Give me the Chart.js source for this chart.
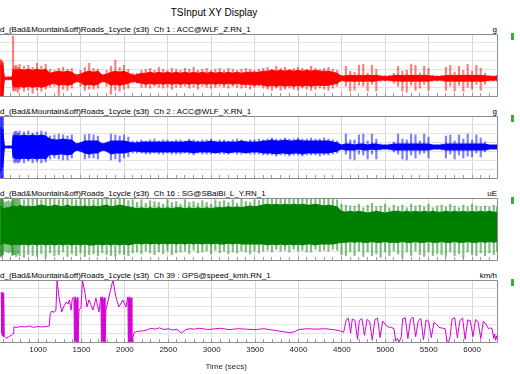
<!DOCTYPE html>
<html><head><meta charset="utf-8">
<script src="https://cdn.jsdelivr.net/npm/chart.js@4.4.1/dist/chart.umd.min.js"></script>
<style>
html,body{margin:0;padding:0;background:#fff;overflow:hidden;}
#wrap{position:relative;width:520px;height:374px;overflow:hidden;font-family:"Liberation Sans",Arial,sans-serif;color:#000;}
.lbl{position:absolute;left:0;font-size:8px;line-height:9px;white-space:pre;}
.unit{position:absolute;right:23px;font-size:8px;line-height:9px;}
.mark{position:absolute;left:511px;width:3px;height:7px;background:#2fb52f;}
canvas{position:absolute;left:-46px;}
#title{position:absolute;left:0;width:428px;top:7px;text-align:center;font-size:10px;line-height:12px;}
</style></head>
<body><div id="wrap"><div id="title">TSInput XY Display</div></div>
<script>
// ---- data: min/max envelopes per ~50 s sample ----
const sampleTimes = [578,588,598,608,625,650,675,700,715,725,
740,760,780,800,850,900,950,1000,1050,1100,
1150,1200,1250,1300,1350,1400,1450,1500,1550,1600,
1650,1700,1750,1800,1850,1900,1950,2000,2050,2100,
2150,2200,2250,2300,2350,2400,2450,2500,2550,2600,
2650,2700,2750,2800,2850,2900,2950,3000,3050,3100,
3150,3200,3250,3300,3350,3400,3450,3500,3550,3600,
3650,3700,3750,3800,3850,3900,3950,4000,4050,4100,
4150,4200,4250,4300,4350,4400,4450,4500,4550,4600,
4650,4700,4750,4800,4850,4900,4950,5000,5050,5100,
5150,5200,5250,5300,5350,5400,5450,5500,5550,5600,
5650,5700,5750,5800,5850,5900,5950,6000,6050,6100,
6150,6200,6250,6287];

// Ch 1 ACC@WLF_Z (g)
const accZPeakHi = [1.07,1.02,0.96,0.90,0.11,0.08,0.10,0.08,0.11,2.37,
0.68,0.73,0.62,0.79,0.68,0.73,0.62,0.85,0.68,0.79,
0.51,0.45,0.56,0.62,0.51,0.56,0.23,0.45,0.62,0.85,
0.56,0.51,0.23,0.45,0.68,1.02,0.62,0.73,0.51,0.28,
0.28,0.45,0.51,0.56,0.45,0.62,0.51,0.45,0.56,0.51,
0.45,0.56,0.51,0.62,0.45,0.51,0.56,0.45,0.51,0.56,
0.45,0.56,0.51,0.45,0.51,0.56,0.51,0.45,0.51,0.56,
0.62,0.51,0.68,0.56,0.62,0.51,0.56,0.62,0.56,0.51,
0.68,0.56,0.51,0.56,0.62,0.51,0.45,0.17,0.68,0.40,
0.34,0.73,0.79,0.28,0.73,0.51,0.17,0.15,0.17,0.28,
0.68,0.40,0.45,0.79,0.73,0.30,0.68,0.56,0.17,0.15,
0.17,0.62,0.73,0.34,0.68,0.45,0.79,0.40,0.73,0.56,
0.28,0.17,0.15,0.17];
const accZPeakLo = [-1.07,-1.07,-1.07,-1.07,-0.11,-0.08,-0.10,-0.08,-0.11,-0.68,
-0.73,-0.68,-0.79,-0.62,-0.73,-0.68,-0.85,-0.68,-0.73,-0.62,
-0.51,-0.45,-1.02,-0.62,-0.68,-0.56,-0.23,-0.45,-0.68,-0.62,
-0.62,-0.56,-0.23,-0.45,-0.90,-0.68,-0.73,-0.62,-0.56,-0.28,
-0.28,-0.51,-0.51,-0.56,-0.45,-0.51,-0.56,-0.51,-0.62,-0.51,
-0.51,-0.45,-0.56,-0.51,-0.62,-0.45,-0.51,-0.56,-0.51,-0.45,
-0.51,-0.56,-0.45,-0.51,-0.56,-0.51,-0.62,-0.51,-0.45,-0.56,
-0.62,-0.68,-0.56,-0.68,-0.62,-0.56,-0.62,-0.68,-0.56,-0.62,
-0.68,-0.62,-0.56,-0.62,-0.68,-0.56,-0.45,-0.17,-0.45,-0.73,
-0.68,-0.40,-0.45,-0.73,-0.34,-0.73,-0.17,-0.15,-0.17,-0.28,
-0.45,-0.73,-0.79,-0.40,-0.68,-0.56,-0.34,-0.68,-0.17,-0.15,
-0.17,-0.68,-0.45,-0.73,-0.40,-0.73,-0.51,-0.62,-0.34,-0.68,
-0.34,-0.17,-0.15,-0.17];
const accZCoreHi = [0.85,0.80,0.75,0.70,0.06,0.05,0.06,0.05,0.06,0.51,
0.45,0.51,0.45,0.51,0.45,0.51,0.45,0.51,0.45,0.51,
0.28,0.34,0.40,0.34,0.40,0.34,0.17,0.23,0.34,0.40,
0.34,0.40,0.17,0.23,0.34,0.40,0.34,0.40,0.28,0.17,
0.20,0.28,0.28,0.34,0.28,0.34,0.28,0.34,0.28,0.34,
0.28,0.34,0.28,0.34,0.28,0.34,0.28,0.34,0.28,0.34,
0.28,0.34,0.28,0.34,0.28,0.34,0.34,0.34,0.34,0.40,
0.40,0.45,0.40,0.45,0.40,0.45,0.40,0.45,0.40,0.45,
0.40,0.45,0.40,0.40,0.40,0.34,0.28,0.11,0.15,0.17,
0.15,0.17,0.15,0.17,0.15,0.17,0.11,0.10,0.11,0.15,
0.17,0.15,0.17,0.15,0.17,0.15,0.17,0.15,0.11,0.10,
0.11,0.15,0.17,0.15,0.17,0.15,0.17,0.15,0.17,0.15,
0.15,0.11,0.10,0.11];
const accZCoreLo = [-1.07,-1.02,-1.02,-0.96,-0.06,-0.05,-0.06,-0.05,-0.06,-0.45,
-0.51,-0.45,-0.51,-0.45,-0.51,-0.45,-0.51,-0.45,-0.51,-0.45,
-0.34,-0.28,-0.40,-0.34,-0.40,-0.34,-0.17,-0.23,-0.40,-0.34,
-0.40,-0.34,-0.17,-0.23,-0.40,-0.34,-0.40,-0.34,-0.28,-0.17,
-0.23,-0.28,-0.34,-0.28,-0.34,-0.28,-0.34,-0.28,-0.34,-0.28,
-0.34,-0.28,-0.34,-0.28,-0.34,-0.28,-0.34,-0.28,-0.34,-0.28,
-0.34,-0.28,-0.34,-0.28,-0.34,-0.34,-0.34,-0.40,-0.34,-0.40,
-0.45,-0.40,-0.45,-0.40,-0.45,-0.40,-0.45,-0.40,-0.45,-0.40,
-0.45,-0.40,-0.40,-0.40,-0.40,-0.34,-0.28,-0.11,-0.17,-0.15,
-0.17,-0.15,-0.17,-0.15,-0.17,-0.15,-0.10,-0.11,-0.10,-0.15,
-0.15,-0.17,-0.15,-0.17,-0.15,-0.17,-0.15,-0.17,-0.10,-0.11,
-0.10,-0.17,-0.15,-0.17,-0.15,-0.17,-0.15,-0.17,-0.15,-0.17,
-0.15,-0.10,-0.11,-0.10];

// Ch 2 ACC@WLF_X (g)
const accXPeakHi = [1.80,1.80,1.80,1.80,0.06,0.05,0.06,0.05,0.06,0.68,
0.85,0.90,0.79,0.90,0.85,0.90,0.79,0.85,0.90,0.85,
0.62,0.68,0.73,0.68,0.62,0.68,0.23,0.28,0.68,0.73,
0.68,0.62,0.23,0.28,0.73,0.68,0.62,0.68,0.56,0.34,
0.34,0.40,0.34,0.40,0.45,0.34,0.40,0.40,0.34,0.40,
0.40,0.34,0.45,0.40,0.34,0.40,0.40,0.45,0.34,0.40,
0.40,0.34,0.40,0.45,0.40,0.34,0.40,0.40,0.45,0.40,
0.45,0.51,0.45,0.45,0.51,0.45,0.45,0.51,0.45,0.45,
0.51,0.45,0.45,0.51,0.45,0.40,0.34,0.11,0.73,0.40,
0.40,0.68,0.73,0.34,0.73,0.45,0.17,0.11,0.17,0.28,
0.73,0.45,0.40,0.73,0.68,0.34,0.73,0.56,0.11,0.11,
0.17,0.62,0.68,0.34,0.68,0.45,0.73,0.40,0.68,0.51,
0.28,0.11,0.11,0.11];
const accXPeakLo = [-1.80,-1.80,-1.80,-1.80,-0.06,-0.05,-0.06,-0.05,-0.06,-0.62,
-0.90,-0.85,-0.90,-0.85,-0.90,-0.79,-0.90,-0.85,-0.90,-0.85,
-0.68,-0.62,-0.68,-0.73,-0.73,-0.62,-0.23,-0.28,-0.68,-0.62,
-0.62,-0.68,-0.23,-0.28,-0.73,-0.68,-0.85,-0.62,-0.56,-0.34,
-0.34,-0.34,-0.40,-0.40,-0.34,-0.40,-0.40,-0.34,-0.40,-0.40,
-0.40,-0.34,-0.40,-0.45,-0.34,-0.40,-0.40,-0.40,-0.34,-0.40,
-0.40,-0.40,-0.34,-0.40,-0.40,-0.34,-0.40,-0.40,-0.40,-0.45,
-0.45,-0.45,-0.51,-0.45,-0.45,-0.51,-0.45,-0.45,-0.51,-0.45,
-0.45,-0.45,-0.51,-0.45,-0.45,-0.40,-0.34,-0.11,-0.40,-0.68,
-0.73,-0.40,-0.45,-0.68,-0.40,-0.68,-0.17,-0.11,-0.17,-0.28,
-0.40,-0.68,-0.73,-0.45,-0.62,-0.40,-0.34,-0.62,-0.11,-0.11,
-0.17,-0.62,-0.40,-0.68,-0.45,-0.62,-0.51,-0.56,-0.34,-0.56,
-0.28,-0.11,-0.11,-0.11];
const accXCoreHi = [1.13,1.02,1.02,0.90,0.05,0.04,0.05,0.04,0.05,0.56,
0.68,0.62,0.68,0.62,0.68,0.62,0.68,0.62,0.68,0.62,
0.45,0.40,0.40,0.45,0.40,0.40,0.17,0.23,0.34,0.34,
0.34,0.34,0.17,0.23,0.34,0.34,0.34,0.34,0.28,0.23,
0.23,0.28,0.28,0.28,0.28,0.28,0.28,0.28,0.28,0.28,
0.28,0.28,0.34,0.28,0.28,0.28,0.28,0.34,0.28,0.28,
0.28,0.28,0.28,0.28,0.34,0.28,0.28,0.28,0.28,0.34,
0.34,0.40,0.34,0.34,0.40,0.34,0.34,0.40,0.34,0.34,
0.34,0.34,0.34,0.34,0.34,0.28,0.23,0.11,0.17,0.17,
0.11,0.17,0.17,0.11,0.17,0.17,0.11,0.11,0.11,0.17,
0.17,0.17,0.17,0.17,0.17,0.17,0.17,0.17,0.11,0.11,
0.11,0.17,0.17,0.17,0.17,0.17,0.17,0.17,0.17,0.17,
0.17,0.11,0.11,0.11];
const accXCoreLo = [-1.41,-1.24,-1.13,-1.02,-0.05,-0.04,-0.05,-0.04,-0.05,-0.51,
-0.62,-0.68,-0.62,-0.68,-0.62,-0.68,-0.62,-0.68,-0.62,-0.68,
-0.40,-0.45,-0.40,-0.40,-0.45,-0.40,-0.17,-0.23,-0.34,-0.40,
-0.34,-0.34,-0.17,-0.23,-0.40,-0.34,-0.34,-0.34,-0.28,-0.23,
-0.23,-0.28,-0.28,-0.28,-0.28,-0.28,-0.28,-0.28,-0.28,-0.28,
-0.28,-0.28,-0.28,-0.34,-0.28,-0.28,-0.28,-0.28,-0.34,-0.28,
-0.28,-0.34,-0.28,-0.28,-0.28,-0.34,-0.28,-0.28,-0.28,-0.34,
-0.34,-0.34,-0.40,-0.34,-0.34,-0.40,-0.34,-0.34,-0.40,-0.34,
-0.34,-0.34,-0.34,-0.34,-0.34,-0.28,-0.23,-0.11,-0.17,-0.17,
-0.17,-0.11,-0.17,-0.17,-0.11,-0.17,-0.11,-0.11,-0.11,-0.17,
-0.17,-0.17,-0.17,-0.17,-0.17,-0.17,-0.17,-0.17,-0.11,-0.11,
-0.11,-0.17,-0.17,-0.17,-0.17,-0.17,-0.17,-0.17,-0.17,-0.17,
-0.17,-0.11,-0.11,-0.11];

// Ch 16 SG@SBaiBi_L_Y (uE)
const sgPeakHi = [350,360,340,330,300,310,320,300,330,340,
360,340,350,370,330,360,340,370,330,360,
340,370,330,350,360,340,330,360,350,340,
330,360,340,370,350,330,370,340,320,330,
300,330,290,320,310,300,280,330,300,310,
280,330,300,310,290,320,300,280,330,310,
320,300,330,290,340,310,300,330,320,340,
370,360,380,370,360,380,370,360,370,380,
380,360,370,350,370,350,330,280,270,260,
260,280,240,270,290,250,260,280,240,270,
250,270,240,280,260,270,250,280,240,260,
270,250,280,260,240,270,250,280,260,250,
260,250,270,250];
const sgPeakLo = [-320,-300,-310,-290,-250,-260,-270,-260,-300,-290,
-290,-310,-280,-300,-320,-290,-300,-310,-280,-320,
-270,-300,-290,-260,-310,-280,-300,-270,-310,-290,
-280,-300,-270,-290,-300,-310,-280,-290,-300,-270,
-260,-280,-250,-270,-290,-260,-280,-250,-290,-270,
-260,-250,-280,-240,-270,-260,-250,-280,-240,-270,
-250,-280,-260,-270,-250,-260,-280,-250,-270,-250,
-240,-260,-230,-250,-240,-260,-230,-250,-240,-260,
-260,-230,-250,-240,-250,-230,-240,-290,-300,-260,
-300,-250,-310,-260,-300,-280,-320,-260,-300,-250,
-280,-320,-260,-300,-250,-290,-310,-260,-300,-280,
-290,-310,-260,-300,-280,-320,-260,-290,-300,-270,
-300,-270,-290,-260];
const sgCoreHi = [250,260,240,230,230,240,240,250,250,260,
260,250,250,270,250,260,250,260,270,260,
250,270,260,250,270,250,260,250,260,250,
260,250,260,270,250,260,270,260,250,240,
230,240,230,240,230,240,230,240,230,240,
240,230,240,230,240,230,240,230,240,240,
240,250,240,250,240,250,260,250,260,270,
280,270,280,270,280,270,280,270,280,270,
270,280,270,260,270,260,250,200,190,200,
190,200,190,180,190,200,190,180,190,200,
200,190,200,190,200,190,200,190,200,190,
190,200,190,200,190,200,190,200,190,200,
190,200,190,190];
const sgCoreLo = [-180,-170,-170,-160,-160,-170,-170,-180,-170,-180,
-170,-180,-170,-180,-170,-180,-170,-180,-170,-180,
-170,-180,-170,-180,-170,-180,-170,-180,-170,-180,
-180,-170,-180,-170,-180,-170,-180,-170,-180,-170,
-160,-170,-160,-170,-160,-170,-160,-170,-160,-170,
-160,-170,-160,-170,-160,-170,-160,-170,-160,-170,
-170,-160,-170,-160,-170,-170,-170,-170,-170,-170,
-180,-170,-180,-170,-180,-170,-180,-170,-180,-170,
-170,-180,-170,-170,-170,-170,-160,-150,-150,-140,
-150,-140,-150,-150,-140,-150,-150,-140,-150,-150,
-150,-140,-150,-150,-140,-150,-150,-140,-150,-150,
-140,-150,-150,-140,-150,-150,-140,-150,-150,-140,
-150,-140,-150,-140];

// Ch 39 GPS@speed_kmh (km/h)
const speedTimes = [576,579,582,585,588,591,594,597,600,603,
606,610,630,660,690,712,720,760,800,850,
900,950,1000,1050,1100,1128,1140,1160,1185,1205,
1218,1240,1272,1300,1322,1345,1360,1380,1393,1413,
1418,1423,1428,1433,1438,1443,1448,1453,1458,1471,
1494,1511,1540,1563,1586,1609,1632,1666,1701,1724,
1729,1734,1739,1744,1749,1754,1759,1764,1770,1781,
1816,1862,1896,1931,1977,2011,2034,2039,2044,2049,
2054,2059,2064,2069,2074,2080,2092,2110,2150,2200,
2250,2300,2350,2400,2450,2500,2550,2600,2650,2700,
2750,2800,2850,2900,2950,3000,3100,3200,3300,3400,
3500,3600,3700,3800,3900,3950,4000,4100,4200,4300,
4400,4480,4520,4550,4575,4600,4620,4650,4680,4700,
4730,4760,4790,4820,4850,4880,4910,4940,4970,5000,
5030,5070,5100,5120,5140,5160,5185,5200,5230,5260,
5290,5320,5350,5380,5410,5440,5470,5500,5530,5560,
5590,5620,5660,5690,5710,5730,5745,5770,5800,5830,
5860,5890,5920,5950,5980,6010,6040,6070,6100,6130,
6160,6190,6210,6230,6250,6260,6270,6280,6287];
const speedKmh = [112,20,110,14,108,22,112,12,110,18,
105,12,8,12,15,19,34,33,35,34,
36,33,35,34,35,36,64,70,67,72,
140,102,68,82,90,86,95,72,97,102,
0,98,4,102,0,95,2,100,0,72,
78,140,111,79,95,84,72,99,68,102,
0,100,3,102,0,97,2,100,0,72,
102,140,102,79,95,79,102,0,100,2,
102,0,98,3,100,0,11,22,24,25,
27,31,29,32,28,30,27,29,20,28,
30,29,31,30,28,29,31,28,30,29,
28,30,27,24,21,23,28,30,29,30,
28,25,22,50,54,20,52,49,6,48,
53,15,51,46,4,50,54,10,47,40,
34,33,30,2,8,0,12,52,55,8,
50,56,12,48,53,5,50,46,10,44,
40,33,31,30,3,0,10,52,55,10,
49,54,6,50,48,12,51,45,8,47,
40,30,32,30,8,18,4,14,6];

const panelNames = [
  "d_(Bad&Mountain&off)Roads_1cycle (s3t)  Ch 1 : ACC@WLF_Z.RN_1",
  "d_(Bad&Mountain&off)Roads_1cycle (s3t)  Ch 2 : ACC@WLF_X.RN_1",
  "d_(Bad&Mountain&off)Roads_1cycle (s3t)  Ch 16 : SG@SBaiBi_L_Y.RN_1",
  "d_(Bad&Mountain&off)Roads_1cycle (s3t)  Ch 39 : GPS@speed_kmh.RN_1"
];
const panelUnits = ["g", "g", "uE", "km/h"];
const xAxisTitle = "Time (secs)";

// ---- layout / style ----
const FONT = '"Liberation Sans", Arial, sans-serif';
Chart.defaults.font.family = FONT;
const X_MIN = 46, X_MAX = 6287;
const panels = [
  {top: 34,  ymin: -1,    ymax: 2.5,  step: 0.5, rgb: '255,0,0',  env: [accZPeakLo, accZPeakHi, accZCoreLo, accZCoreHi]},
  {top: 116, ymin: -1.75, ymax: 1.75, step: 0.5, rgb: '0,0,255',  env: [accXPeakLo, accXPeakHi, accXCoreLo, accXCoreHi]},
  {top: 198, ymin: -350,  ymax: 350,  step: 100, rgb: '0,128,0',  env: [sgPeakLo, sgPeakHi, sgCoreLo, sgCoreHi]},
  {top: 280, ymin: 0,     ymax: 140,  step: 20,  rgb: '215,0,215', speed: true}
];

const toPts = (ts, vs) => vs.map((v, i) => ({x: ts[i], y: v}));
const toBars = (ts, lo, hi) => lo.map((v, i) => ({x: ts[i], y: [v, hi[i]]}));

const framePlugin = {
  id: 'frame',
  afterDraw(chart) {
    const {ctx, chartArea: a} = chart;
    ctx.save();
    ctx.strokeStyle = '#8c8c8c';
    ctx.lineWidth = 1;
    ctx.beginPath();
    ctx.moveTo(a.left, a.top + 0.5);
    ctx.lineTo(a.right + 0.5, a.top + 0.5);
    ctx.lineTo(a.right + 0.5, a.bottom + 0.5);
    ctx.lineTo(a.left, a.bottom + 0.5);
    ctx.stroke();
    ctx.restore();
  }
};

const wrap = document.getElementById('wrap');
panels.forEach((p, idx) => {
  const isBottom = idx === panels.length - 1;
  const lbl = document.createElement('div');
  lbl.className = 'lbl'; lbl.style.top = (p.top - 9) + 'px'; lbl.textContent = panelNames[idx];
  wrap.appendChild(lbl);
  const un = document.createElement('div');
  un.className = 'unit'; un.style.top = (p.top - 9) + 'px'; un.textContent = panelUnits[idx];
  wrap.appendChild(un);
  const mk = document.createElement('div');
  mk.className = 'mark'; mk.style.top = (p.top - 1) + 'px';
  wrap.appendChild(mk);

  const cv = document.createElement('canvas');
  const h = isBottom ? 96 : 66;
  cv.width = 566; cv.height = h;
  cv.style.width = '566px'; cv.style.height = h + 'px';
  cv.style.top = (p.top - 2) + 'px';
  wrap.appendChild(cv);

  const solid = 'rgb(' + p.rgb + ')';
  let datasets;
  if (p.speed) {
    datasets = [{type: 'line', data: toPts(speedTimes, speedKmh), borderColor: solid, borderWidth: 1,
                 pointRadius: 0, tension: 0, borderJoinStyle: 'bevel', clip: 0, fill: false}];
  } else {
    const [pLo, pHi, cLo, cHi] = p.env;
    datasets = [
      {type: 'line', data: toPts(sampleTimes, cHi), borderColor: solid, backgroundColor: solid, borderWidth: 1,
       pointRadius: 0, tension: 0, borderJoinStyle: 'bevel', clip: 0, fill: '+1'},
      {type: 'line', data: toPts(sampleTimes, cLo), borderColor: solid, borderWidth: 1,
       pointRadius: 0, tension: 0, borderJoinStyle: 'bevel', clip: 0, fill: false},
      {type: 'bar', data: toBars(sampleTimes, pLo, pHi), backgroundColor: 'rgba(' + p.rgb + ',0.5)',
       borderWidth: 0, barThickness: 1.5, clip: 0}
    ];
  }

  new Chart(cv, {
    type: 'line',
    data: {datasets},
    options: {
      responsive: false, animation: false, events: [],
      layout: {padding: {left: 0, right: 23, top: 2, bottom: isBottom ? 0 : 2}},
      plugins: {legend: {display: false}, tooltip: {enabled: false}},
      scales: {
        x: {
          type: 'linear', min: X_MIN, max: X_MAX, offset: false,
          afterFit: s => { s.height = isBottom ? 32 : 0; },
          border: {display: false},
          grid: {
            offset: false,
            color: c => (c.tick && c.tick.value % 500 === 0) ? '#d6d6d6' : 'rgba(0,0,0,0)',
            tickColor: '#9a9a9a', tickLength: -3, drawTicks: true, lineWidth: 1
          },
          ticks: {
            display: isBottom, stepSize: 100, autoSkip: false, maxRotation: 0, minRotation: 0,
            includeBounds: false, padding: 6, color: '#222', font: {size: 8, family: FONT},
            callback: v => (v % 500 === 0 && v >= 1000) ? String(v) : ''
          },
          title: {display: isBottom, text: xAxisTitle, color: '#222', font: {size: 8, family: FONT}, padding: {top: 0, bottom: 2}}
        },
        y: {
          min: p.ymin, max: p.ymax,
          afterFit: s => { s.width = 0; },
          border: {display: false},
          grid: {color: '#e3e3e3', drawTicks: false},
          ticks: {display: false, stepSize: p.step}
        }
      }
    },
    plugins: [framePlugin]
  });
});
</script>
</body></html>
